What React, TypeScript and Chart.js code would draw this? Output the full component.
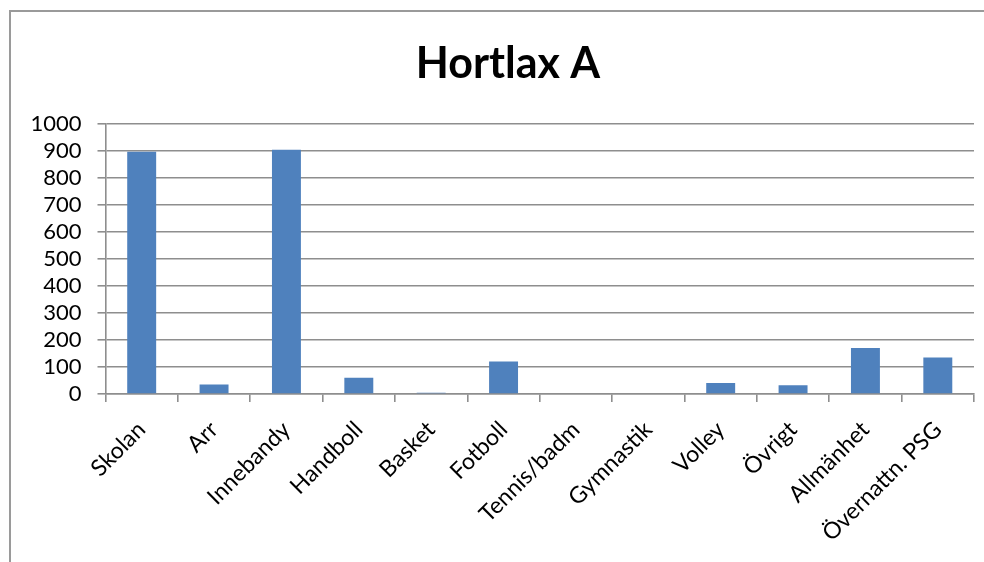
import React, { useEffect, useRef } from "react";
import { Chart, registerables } from "chart.js";

Chart.register(...registerables);

const categories = [
  "Skolan",
  "Arr",
  "Innebandy",
  "Handboll",
  "Basket",
  "Fotboll",
  "Tennis/badm",
  "Gymnastik",
  "Volley",
  "Övrigt",
  "Allmänhet",
  "Övernattn. PSG",
];
const values = [897, 35, 905, 60, 5, 120, 0, 0, 41, 32, 170, 135];
const chartTitle = "Hortlax A";
const yMin = 0;
const yMax = 1000;
const yStep = 100;

const FONT = "Lato, 'Open Sans', sans-serif";
const GRID = "#8e8e8e";

const framePlugin = {
  id: "frame",
  beforeDraw(chart: any) {
    const ctx = chart.ctx;
    ctx.save();
    ctx.fillStyle = "#ffffff";
    ctx.fillRect(0, 0, chart.width, chart.height);
    ctx.strokeStyle = "#9a9a9a";
    ctx.lineWidth = 2;
    ctx.strokeRect(10, 11, chart.width + 20, chart.height + 20);
    ctx.restore();
  },
  afterDraw(chart: any) {
    const ctx = chart.ctx;
    ctx.save();
    ctx.fillStyle = "#000000";
    ctx.font = `bold 43px ${FONT}`;
    ctx.textAlign = "center";
    ctx.textBaseline = "alphabetic";
    ctx.fillText(chartTitle, 508, 78);
    ctx.restore();
  },
};

export default function App() {
  const ref = useRef<HTMLCanvasElement | null>(null);
  useEffect(() => {
    if (!ref.current) return;
    const chart = new Chart(ref.current, {
      type: "bar",
      data: {
        labels: categories,
        datasets: [
          {
            data: values,
            backgroundColor: "#4f81bd",
            borderWidth: 0,
            barPercentage: 0.4,
            categoryPercentage: 1,
          },
        ],
      },
      options: {
        animation: false,
        responsive: false,
        maintainAspectRatio: false,
        layout: { padding: { left: 15, right: 10, top: 124, bottom: 0 } },
        plugins: {
          legend: { display: false },
          tooltip: { enabled: false },
          title: { display: false },
        },
        scales: {
          x: {
            offset: true,
            afterFit(scale: any) {
              scale.height = 168;
            },
            grid: {
              offset: true,
              drawOnChartArea: false,
              drawTicks: true,
              tickLength: 8,
              color: GRID,
              lineWidth: 1.6,
            },
            border: { display: true, color: GRID, width: 1.6 },
            ticks: {
              minRotation: 45,
              maxRotation: 45,
              autoSkip: false,
              color: "#000000",
              font: { family: FONT, size: 23 },
              padding: 14,
            },
          },
          y: {
            min: yMin,
            max: yMax,
            afterFit(scale: any) {
              scale.width = 90.5;
            },
            grid: {
              color: GRID,
              lineWidth: 1.6,
              drawTicks: true,
              tickLength: 8,
            },
            border: { display: true, color: GRID, width: 1.6 },
            ticks: {
              stepSize: yStep,
              autoSkip: false,
              color: "#000000",
              font: { family: FONT, size: 22 },
              padding: 16,
              callback: (v: any) => String(v),
            },
          },
        },
      },
      plugins: [framePlugin],
    });
    return () => chart.destroy();
  }, []);
  return (
    <div style={{ position: "absolute", left: 0, top: 0, width: 984, height: 562 }}>
      <canvas ref={ref} width={984} height={562} style={{ display: "block" }} />
    </div>
  );
}
